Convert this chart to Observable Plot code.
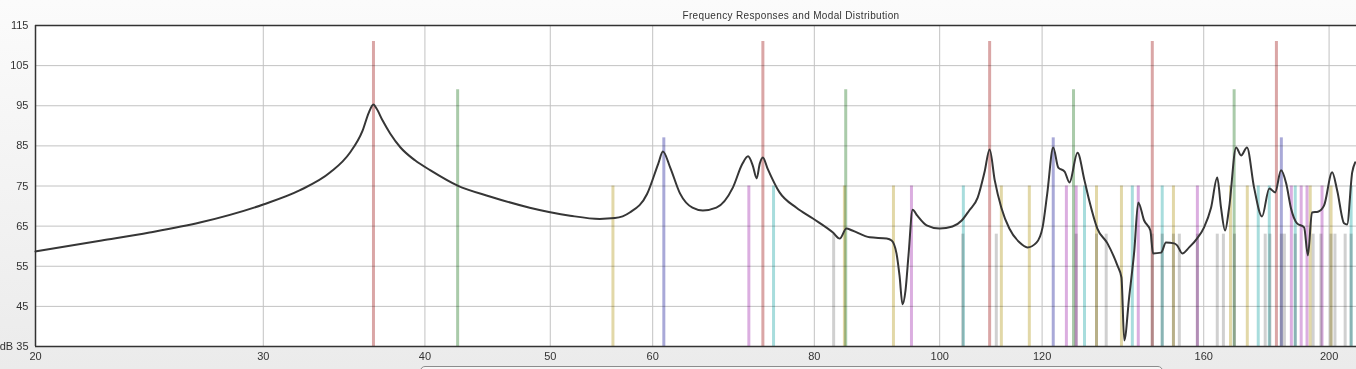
<!DOCTYPE html>
<html><head><meta charset="utf-8">
<script src="https://cdn.jsdelivr.net/npm/d3@7"></script>
<script src="https://cdn.jsdelivr.net/npm/@observablehq/plot@0.6"></script>
<style>
html,body{margin:0;padding:0;}
body{width:1356px;height:369px;overflow:hidden;position:relative;background:linear-gradient(#fbfbfb,#ebebeb);font-family:"Liberation Sans",Arial,sans-serif;}
#title{position:absolute;left:0;top:10px;width:1582px;text-align:center;font-size:10px;letter-spacing:0.35px;color:#333;line-height:12px;z-index:2;}
#chart{position:absolute;left:0;top:0;}
#scroll{position:absolute;left:420px;top:366px;width:741px;height:14px;border:1px solid #8c8c8c;border-radius:5px;background:#f6f6f6;}
</style></head>
<body>
<div id="title">Frequency Responses and Modal Distribution</div>
<div id="chart"></div>
<div id="scroll"></div>
<script>
// Axis ticks
const freqTicks = [20, 30, 40, 50, 60, 80, 100, 120, 160, 200];
const dbTicks = [35, 45, 55, 65, 75, 85, 95, 105, 115];

// Room modes (Hz) by family
const axialL = [36.5, 73.0, 109.3, 146.0, 182.1];
const axialW = [42.4, 84.6, 126.9, 168.9];
const axialH = [61.2, 122.4, 183.7];
const tangLW = [55.9, 84.4, 92.1, 111.6, 117.3, 132.2, 138.2, 151.6, 167.8, 172.9, 193.4, 200.7];
const tangLH = [71.2, 95.1, 125.3, 127.5, 142.4, 158.2, 187.0, 190.3, 192.3, 197.5];
const tangWH = [74.4, 104.3, 129.4, 140.9, 148.6, 176.3, 179.8, 188.3, 208.0];
const oblique = [82.8, 104.2, 110.6, 127.5, 132.2, 134.5, 146.0, 148.6, 151.6, 153.2, 158.2, 163.9, 165.7, 169.0, 178.5, 180.0, 183.7, 184.7, 188.3, 194.4, 197.1, 200.7, 202.1, 205.8, 208.0];
// Marker level (dB) for each family, in the order below
const modeFamilies = ["oblique", "tangLW", "tangLH", "tangWH", "axialH", "axialW", "axialL"];
const modeLevels = [63, 75, 75, 75, 87, 99, 111];

// Frequency response
const respFreq = [20, 22.5, 24.5, 26.8, 30, 32.0, 33.8, 35.0, 35.8, 36.2, 36.5, 36.7, 37.1, 37.6, 38.3, 39.3, 40.4, 42.4, 44.9, 48.2, 51.8, 54.6, 56.1, 57.6, 59.4, 60.6, 61.1, 61.9, 63.0, 64.4, 65.6, 67.2, 69.2, 70.4, 71.1, 71.7, 72.2, 72.6, 73.0, 73.6, 75.2, 77.5, 79.8, 82.7, 83.7, 84.7, 85.6, 88.3, 91.0, 91.8, 92.6, 93.1, 93.6, 94.1, 94.6, 95.3, 96.1, 97.7, 100, 102.3, 104.0, 105.4, 107.0, 108.3, 109.3, 110.3, 111.6, 113.2, 115.3, 116.9, 118.8, 120.1, 121.1, 122.4, 123.5, 124.9, 126.0, 127.8, 129.4, 130.5, 132.4, 134.8, 137.2, 138.2, 138.9, 140.1, 141.4, 142.4, 143.9, 145.5, 146.2, 148.3, 149.6, 151.8, 152.6, 154.0, 155.9, 158.1, 160.1, 162.1, 163.9, 165.0, 166.2, 167.4, 169.5, 171.0, 172.8, 175.0, 177.5, 179.8, 181.7, 183.6, 185.3, 186.9, 188.9, 191.3, 192.6, 194.0, 196.1, 198.2, 201.1, 202.9, 205.4, 206.5, 208.4, 209.5];
const respDb = [58.7, 61.4, 63.4, 65.9, 70.4, 73.9, 78.4, 83.3, 88.8, 93.3, 95.3, 94.3, 91.3, 88.1, 84.6, 81.4, 78.9, 75.1, 72.4, 69.6, 67.6, 66.8, 67.0, 68.4, 73.0, 80.6, 83.6, 79.6, 73.1, 69.6, 68.9, 69.6, 74.6, 80.6, 82.4, 80.1, 76.9, 80.6, 82.1, 79.4, 73.4, 69.6, 66.9, 63.4, 61.9, 64.4, 63.9, 62.2, 61.9, 61.4, 58.2, 52.7, 45.5, 49.0, 57.7, 69.1, 67.6, 65.2, 64.4, 64.9, 66.4, 68.9, 72.1, 78.4, 84.1, 76.4, 69.6, 64.4, 60.9, 59.7, 60.9, 64.7, 73.1, 84.6, 79.6, 78.6, 75.9, 83.3, 76.4, 71.4, 64.4, 60.7, 55.2, 52.2, 36.5, 47.2, 58.9, 70.9, 66.4, 63.9, 58.2, 58.4, 60.9, 60.7, 60.2, 58.2, 59.7, 61.9, 64.7, 69.6, 77.1, 69.6, 63.9, 69.6, 84.6, 82.6, 84.6, 74.6, 67.4, 74.4, 73.4, 78.9, 75.6, 69.4, 65.7, 64.7, 57.7, 68.4, 68.6, 70.1, 78.4, 73.9, 65.7, 65.4, 78.4, 80.9];

// Styles
const familyColors = {
  oblique: "#d0d0d0", tangLW: "#e2d8a8", tangLH: "#dbaee0", tangWH: "#a8dddd",
  axialH: "#a9a9d8", axialW: "#aacbaa", axialL: "#daa6a6"
};

const familyFreqs = {oblique, tangLW, tangLH, tangWH, axialH, axialW, axialL};
const yMin = dbTicks[0], yMax = dbTicks[dbTicks.length - 1];
const modes = modeFamilies.flatMap((fam, i) =>
  familyFreqs[fam].map(f => ({f, fam, lo: yMin, hi: modeLevels[i]})));
const response = respFreq.map((f, i) => ({f, db: respDb[i]}));

const chart = Plot.plot({
  width: 1356, height: 369,
  marginLeft: 35, marginRight: 0, marginTop: 25, marginBottom: 23,
  style: {background: "transparent", fontFamily: "'Liberation Sans', Arial, sans-serif", fontSize: "11px", color: "#333", overflow: "visible"},
  x: {type: "log", domain: [20, 210], ticks: freqTicks, tickFormat: d => String(d), tickSize: 0, tickPadding: 6, label: null},
  y: {domain: [yMin, yMax], ticks: dbTicks, tickFormat: d => d === yMin ? "dB 35" : String(d), tickSize: 0, tickPadding: 7, label: null},
  marks: [
    Plot.frame({fill: "white", stroke: "none"}),
    Plot.ruleX(freqTicks.slice(1), {stroke: "#c2c2c2", strokeWidth: 1}),
    Plot.ruleY(dbTicks.slice(1, -1), {stroke: "#c2c2c2", strokeWidth: 1}),
    Plot.ruleX(modes, {x: "f", y1: "lo", y2: "hi", stroke: d => familyColors[d.fam], strokeWidth: 3, mixBlendMode: "multiply"}),
    Plot.line(response, {x: "f", y: "db", stroke: "#363636", strokeWidth: 2, curve: "monotone-x"}),
    Plot.ruleY([yMax], {stroke: "#333", strokeWidth: 1.5}),
    Plot.ruleY([yMin], {stroke: "#333", strokeWidth: 1.5}),
    Plot.ruleX([freqTicks[0]], {stroke: "#333", strokeWidth: 1.5})
  ]
});
document.getElementById("chart").appendChild(chart);
</script>
</body></html>
